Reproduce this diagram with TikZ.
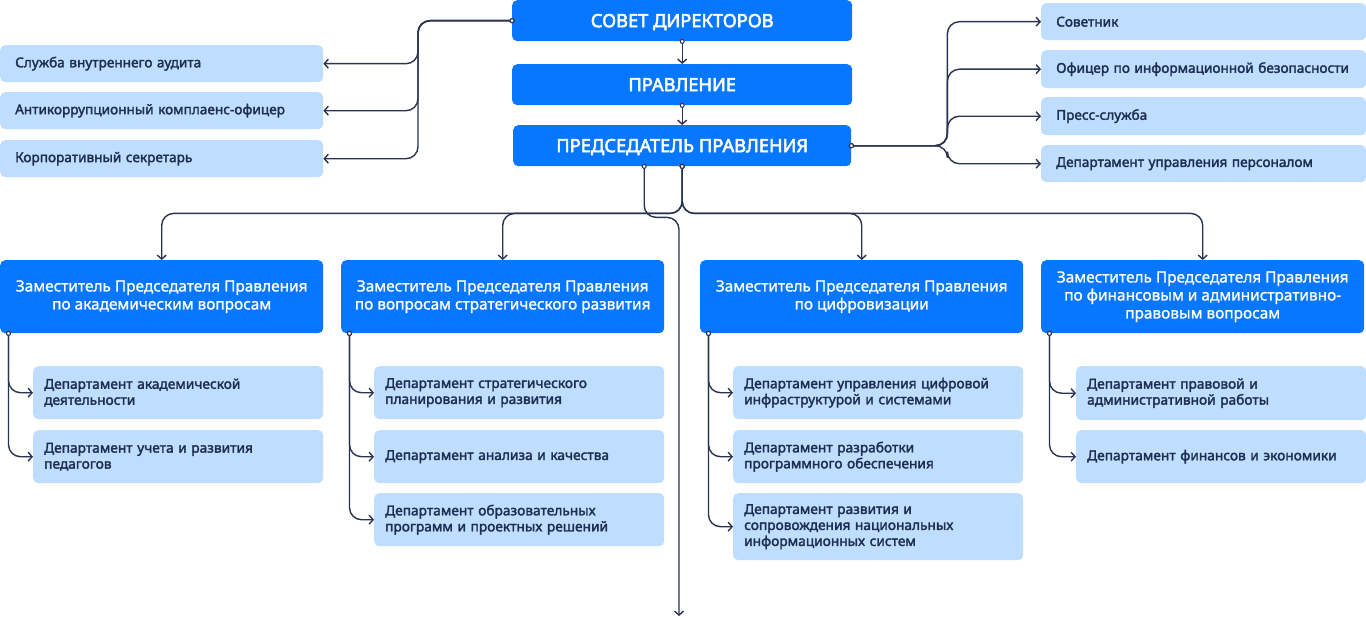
\documentclass[tikz,border=0pt]{standalone}
\usepackage{fontspec}
\setmainfont{Noto Sans}
\newfontfamily\topf[FakeBold=3]{Noto Sans}
\newfontfamily\semi[FakeBold=2.2]{Noto Sans}
\newfontfamily\medf[FakeBold=1.2]{Noto Sans}
\usetikzlibrary{arrows.meta}
\definecolor{mainblue}{HTML}{0777FF}
\definecolor{lightblue}{HTML}{BFDEFF}
\definecolor{navy}{HTML}{1E2E4F}
\definecolor{linec}{HTML}{2A3350}
\begin{document}
\begin{tikzpicture}[x=1pt,y=-1pt,
  topbox/.style={fill=mainblue,text=white,rounded corners=5pt,minimum width=#1,minimum height=41pt,anchor=north west,inner sep=0pt,text height=13pt,text depth=0pt,font=\topf\fontsize{18.3}{22}\selectfont},
  sidebox/.style={fill=lightblue,text=navy,rounded corners=5pt,anchor=north west,inner xsep=15pt,inner ysep=0pt,text width=#1,align=left,font=\semi\fontsize{13.6}{16}\selectfont},
  depbox/.style={fill=mainblue,text=white,rounded corners=5pt,minimum width=323pt,minimum height=73pt,anchor=north west,inner sep=0pt,align=center,font=\medf\fontsize{15.4}{18}\selectfont},
  deptbox/.style={fill=lightblue,text=navy,rounded corners=5pt,anchor=north west,inner xsep=11pt,inner ysep=0pt,text width=268pt,minimum height=#1,align=left,font=\semi\fontsize{13.7}{16}\selectfont},
  conn/.style={draw=linec,line width=1.4pt,rounded corners=12pt,-{Straight Barb[length=4pt,width=9pt]}},
  dconn/.style={conn,{Circle[length=5pt,fill=white,line width=1pt]}-{Straight Barb[length=4pt,width=9pt]},shorten <=-2.5pt}
]
\useasboundingbox (0,0) rectangle (1366,618);

% top column
\node[topbox=340pt] (sovet) at (512,0) {СОВЕТ ДИРЕКТОРОВ};
\node[topbox=340pt] (pravl) at (512,64) {ПРАВЛЕНИЕ};
\node[topbox=338pt] (pred) at (513,125) {ПРЕДСЕДАТЕЛЬ ПРАВЛЕНИЯ};

% left services
\node[sidebox=293pt,minimum height=37pt] (aud) at (0,45) {Служба внутреннего аудита};
\node[sidebox=293pt,minimum height=37pt] (anti) at (0,92) {Антикоррупционный комплаенс-офицер};
\node[sidebox=293pt,minimum height=37pt] (korp) at (0,140) {Корпоративный секретарь};

% right services
\node[sidebox=295pt,minimum height=37pt] (sovetnik) at (1041,3) {Советник};
\node[sidebox=295pt,minimum height=38pt] (ofic) at (1041,50) {Офицер по информационной безопасности};
\node[sidebox=295pt,minimum height=38pt] (press) at (1041,97) {Пресс-служба};
\node[sidebox=295pt,minimum height=37pt] (pers) at (1041,145) {Департамент управления персоналом};

% deputies
\node[depbox] (dz1) at (0,260) {Заместитель Председателя Правления\\по академическим вопросам};
\node[depbox] (dz2) at (341,260) {Заместитель Председателя Правления\\по вопросам стратегического развития};
\node[depbox] (dz3) at (700,260) {Заместитель Председателя Правления\\по цифровизации};
\node[depbox] (dz4) at (1041,260) {Заместитель Председателя Правления\\по финансовым и административно-\\правовым вопросам};

% departments
\node[deptbox=53pt] (d11) at (33,366) {Департамент академической\\деятельности};
\node[deptbox=53pt] (d12) at (33,430) {Департамент учета и развития\\педагогов};
\node[deptbox=53pt] (d21) at (374,366) {Департамент стратегического\\планирования и развития};
\node[deptbox=53pt] (d22) at (374,430) {Департамент анализа и качества};
\node[deptbox=53pt] (d23) at (374,493) {Департамент образовательных\\программ и проектных решений};
\node[deptbox=53pt] (d31) at (733,366) {Департамент управления цифровой\\инфраструктурой и системами};
\node[deptbox=53pt] (d32) at (733,430) {Департамент разработки\\программного обеспечения};
\node[deptbox=67pt] (d33) at (733,493) {Департамент развития и\\сопровождения национальных\\информационных систем};
\node[deptbox=54pt] (d41) at (1076,366) {Департамент правовой и\\административной работы};
\node[deptbox=53pt] (d42) at (1076,430) {Департамент финансов и экономики};

\coordinate (bend) at (679,616);

% connectors: main column
\draw[dconn] (sovet.south) -- (pravl.north);
\draw[dconn] (pravl.south) -- (pred.north);

% left tree
\foreach \t in {aud,anti,korp}
  \draw[dconn] (sovet.west) -- ++(-94,0) |- (\t.east);

% right tree
\foreach \t in {sovetnik,ofic,press,pers}
  \draw[dconn] (pred.east) -- ++(96,0) |- (\t.west);

% deputies
\foreach \t in {dz1,dz2,dz3,dz4}
  \draw[dconn] (pred.south) -- ++(0,47) -| (\t.north);

% long line down
\draw[dconn] ([xshift=-38pt]pred.south) -- ++(0,51) -| (bend);

% department branches
\foreach \d/\t in {dz1/d11,dz1/d12,dz2/d21,dz2/d22,dz2/d23,dz3/d31,dz3/d32,dz3/d33,dz4/d41,dz4/d42}
  \draw[dconn] ([xshift=8.5pt]\d.south west) |- (\t.west);
\end{tikzpicture}
\end{document}
